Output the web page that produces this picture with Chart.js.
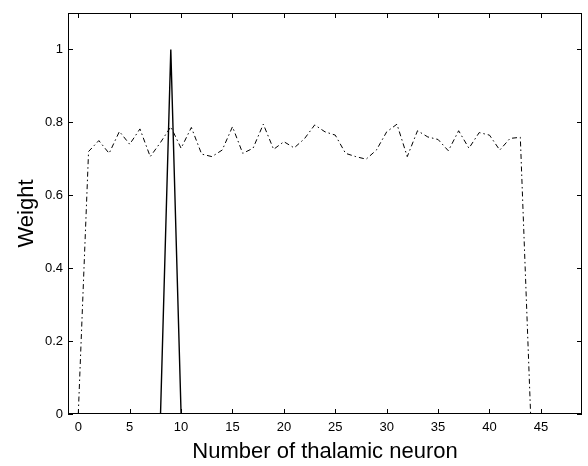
<!DOCTYPE html>
<html>
<head>
<meta charset="utf-8">
<script src="https://cdn.jsdelivr.net/npm/chart.js@4"></script>
<style>
  body { margin: 0; background: #fff; }
  #wrap { width: 588px; height: 466px; }
</style>
</head>
<body>
<div id="wrap"><canvas id="myChart" width="588" height="466"></canvas></div>
<script>
// neuron index 0..44, dash-dot curve
const neurons = [0,1,2,3,4,5,6,7,8,9,10,11,12,13,14,15,16,17,18,19,20,21,22,
  23,24,25,26,27,28,29,30,31,32,33,34,35,36,37,38,39,40,41,42,43,44];
const weightsAll = [0,0.72,0.75,0.715,0.775,0.74,0.782,0.706,0.745,0.788,0.729,
  0.786,0.713,0.706,0.724,0.788,0.715,0.729,0.795,0.726,0.747,0.73,0.755,
  0.793,0.774,0.765,0.715,0.706,0.699,0.724,0.774,0.795,0.706,0.777,0.76,
  0.753,0.722,0.777,0.729,0.772,0.765,0.724,0.756,0.759,0];
// solid spike
const spikeX = [8, 9, 10];
const spikeY = [0, 1, 0];

const xTicks = [0,5,10,15,20,25,30,35,40,45];
const yTicks = [0,0.2,0.4,0.6,0.8,1];
const yTickLabels = ['0','0.2','0.4','0.6','0.8','1'];

const font = "'Liberation Sans', Arial, sans-serif";

// box + inward ticks on all four sides
const boxTicks = {
  id: 'boxTicks',
  afterDraw(chart) {
    const c = chart.ctx, a = chart.chartArea;
    const xs = chart.scales.x, ys = chart.scales.y;
    c.save();
    c.strokeStyle = '#000';
    c.lineWidth = 1;
    c.strokeRect(a.left + 0.5, a.top + 0.5, a.right - a.left - 1, a.bottom - a.top - 1);
    c.beginPath();
    xTicks.forEach(v => {
      const px = Math.round(xs.getPixelForValue(v)) + 0.5;
      c.moveTo(px, a.bottom); c.lineTo(px, a.bottom - 5);
      c.moveTo(px, a.top); c.lineTo(px, a.top + 5);
    });
    yTicks.forEach(v => {
      const py = Math.round(ys.getPixelForValue(v)) + 0.5;
      c.moveTo(a.left, py); c.lineTo(a.left + 5, py);
      c.moveTo(a.right, py); c.lineTo(a.right - 5, py);
    });
    c.stroke();
    c.restore();
  }
};

const ctx = document.getElementById('myChart').getContext('2d');
new Chart(ctx, {
  type: 'line',
  data: {
    datasets: [
      {
        data: neurons.map((n, i) => ({ x: n, y: weightsAll[i] })),
        borderColor: '#000',
        borderWidth: 1,
        borderDash: [5, 3, 1.5, 3],
        pointRadius: 0,
        tension: 0,
        fill: false
      },
      {
        data: spikeX.map((n, i) => ({ x: n, y: spikeY[i] })),
        borderColor: '#000',
        borderWidth: 1.4,
        pointRadius: 0,
        tension: 0,
        fill: false
      }
    ]
  },
  options: {
    responsive: false,
    animation: false,
    layout: { padding: { top: 13, right: 6, left: 0, bottom: 0 } },
    plugins: { legend: { display: false }, tooltip: { enabled: false } },
    scales: {
      x: {
        type: 'linear',
        min: -1,
        max: 49,
        afterBuildTicks: s => { s.ticks = xTicks.map(v => ({ value: v })); },
        afterFit: s => { s.height = 52; },
        grid: { display: false, drawTicks: false },
        border: { display: false },
        ticks: { color: '#000', padding: 6, font: { family: font, size: 13 } },
        title: { display: true, text: 'Number of thalamic neuron', color: '#000',
                 padding: { top: 0, bottom: 1 }, font: { family: font, size: 22 } }
      },
      y: {
        type: 'linear',
        min: 0,
        max: 1.1,
        afterBuildTicks: s => { s.ticks = yTicks.map(v => ({ value: v })); },
        afterFit: s => { s.width = 68; },
        grid: { display: false, drawTicks: false },
        border: { display: false },
        ticks: {
          color: '#000', padding: 5, font: { family: font, size: 13 },
          callback: v => yTickLabels[yTicks.indexOf(v)]
        },
        title: { display: true, text: 'Weight', color: '#000',
                 padding: { top: 14, bottom: 0 }, font: { family: font, size: 22 } }
      }
    }
  },
  plugins: [boxTicks]
});
</script>
</body>
</html>
